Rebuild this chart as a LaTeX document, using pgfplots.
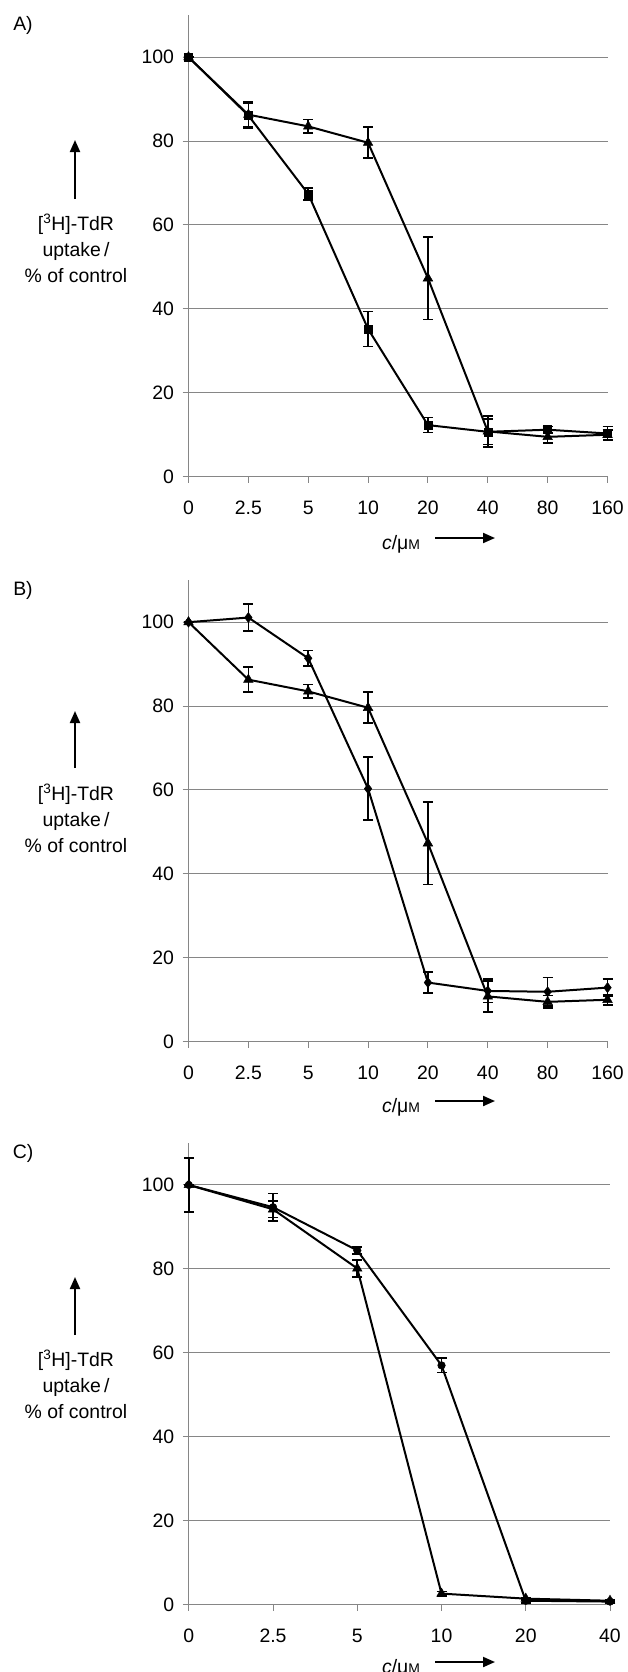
\documentclass[border=0pt]{standalone}
\usepackage{fontspec}
\setmainfont{Liberation Sans}
\usepackage{pgfplots}
\pgfplotsset{compat=1.18}
\usetikzlibrary{arrows.meta}
\definecolor{gridgray}{HTML}{868686}

\newcommand{\lbl}{\fontsize{19.5}{26}\selectfont}
\newcommand{\conc}{\textit{c}/μ{\fontsize{14}{14}\selectfont M}}

\pgfplotsset{
  uptake/.style={
    scale only axis, width=419bp, height=461.5bp,
    anchor=south west,
    xmin=0, ymin=0, ymax=110,
    axis x line=bottom, axis y line=left,
    axis line style={-, draw=gridgray, line width=1bp},
    ytick={0,20,...,100},
    ymajorgrids, grid style={draw=gridgray, line width=1bp},
    tick align=outside, major tick length=6bp,
    tick style={draw=gridgray, line width=1bp},
    ticklabel style={font=\lbl},
    yticklabel style={xshift=-5bp},
    xticklabel style={yshift=-15bp},
    /pgf/number format/assume math mode=true,
    clip=false,
  },
  ser/.style={black, line width=2bp,
    mark options={solid, fill=black, line width=0.5bp},
    /pgfplots/error bars/y dir=both,
    /pgfplots/error bars/y explicit,
    /pgfplots/error bars/error bar style={line width=1.6bp, black},
    /pgfplots/error bars/error mark options={rotate=90, mark size=5bp, line width=1.6bp, black}},
}

\begin{document}
\begin{tikzpicture}
\useasboundingbox (0,0) rectangle (628bp,-1672bp);

% ---------- A ----------
\begin{axis}[uptake, at={(188.5bp,-476.7bp)}, xmax=7,
  xtick={0,...,7}, xticklabels={0,2.5,5,10,20,40,80,160}]
\addplot[ser, mark=square*, mark size=4bp] coordinates {
  (0,100) +- (0,0) (1,86.1) +- (0,3.0) (2,67.4) +- (0,1.4) (3,35.2) +- (0,4.2)
  (4,12.3) +- (0,1.8) (5,10.7) +- (0,3.0) (6,11.2) +- (0,0.8) (7,10.3) +- (0,1.7)};
\addplot[ser, mark=triangle*, mark size=5.5bp] coordinates {
  (0,100) +- (0,0) (1,86.3) +- (0,3.0) (2,83.5) +- (0,1.6) (3,79.6) +- (0,3.7)
  (4,47.3) +- (0,9.8) (5,10.8) +- (0,3.7) (6,9.5) +- (0,1.5) (7,10.0) +- (0,1.2)};
\end{axis}

% ---------- B ----------
\begin{axis}[uptake, at={(188.5bp,-1041.7bp)}, xmax=7,
  xtick={0,...,7}, xticklabels={0,2.5,5,10,20,40,80,160}]
\addplot[ser, mark=diamond*, mark size=5bp] coordinates {
  (0,100) +- (0,0) (1,101.1) +- (0,3.2) (2,91.4) +- (0,1.8) (3,60.3) +- (0,7.5)
  (4,14.1) +- (0,2.5) (5,12.1) +- (0,2.8) (6,11.9) +- (0,3.4) (7,12.9) +- (0,2.0)};
\addplot[ser, mark=triangle*, mark size=5.5bp] coordinates {
  (0,100) +- (0,0) (1,86.3) +- (0,3.0) (2,83.5) +- (0,1.6) (3,79.6) +- (0,3.7)
  (4,47.3) +- (0,9.8) (5,10.8) +- (0,3.7) (6,9.5) +- (0,1.5) (7,10.0) +- (0,1.2)};
\end{axis}

% ---------- C ----------
\begin{axis}[uptake, at={(188.8bp,-1604.5bp)}, width=421.2bp, xmax=5,
  xtick={0,...,5}, xticklabels={0,2.5,5,10,20,40}]
\addplot[ser, mark=*, mark size=3.8bp] coordinates {
  (0,100) +- (0,6.4) (1,94.7) +- (0,3.3) (2,84.4) +- (0,0.8) (3,57.0) +- (0,1.7)
  (4,0.9) +- (0,0.5) (5,0.7) +- (0,0.4)};
\addplot[ser, mark=triangle*, mark size=5.5bp] coordinates {
  (0,100) +- (0,0) (1,94.2) +- (0,2.0) (2,80.1) +- (0,2.0) (3,2.6) +- (0,0.5)
  (4,1.4) +- (0,0.3) (5,0.9) +- (0,0.3)};
\end{axis}

% panel letters
\node[font=\lbl] at (23bp,-25bp) {A)};
\node[font=\lbl] at (23bp,-590.6bp) {B)};
\node[font=\lbl] at (23bp,-1153.7bp) {C)};

% y labels with arrows
\foreach \ym/\ab/\at in {248/199/140, 818/768/711, 1384/1335/1277}{
  \node[font=\lbl, align=center] at (76bp,-\ym bp)
    {[\textsuperscript{3}H]-TdR\\uptake\,/\\\% of control};
  \draw[line width=2bp, -{Triangle[length=12bp,width=10bp]}] (75bp,-\ab bp) -- (75bp,-\at bp);
}

% x labels with arrows
\foreach \yx in {549, 1112, 1673}{
  \node[font=\lbl, anchor=base] at (401bp,-\yx bp) {\conc};
  \draw[line width=2bp, -{Triangle[length=12bp,width=10bp]}] (435bp,-\yx bp+11bp) -- (495bp,-\yx bp+11bp);
}
\end{tikzpicture}
\end{document}
